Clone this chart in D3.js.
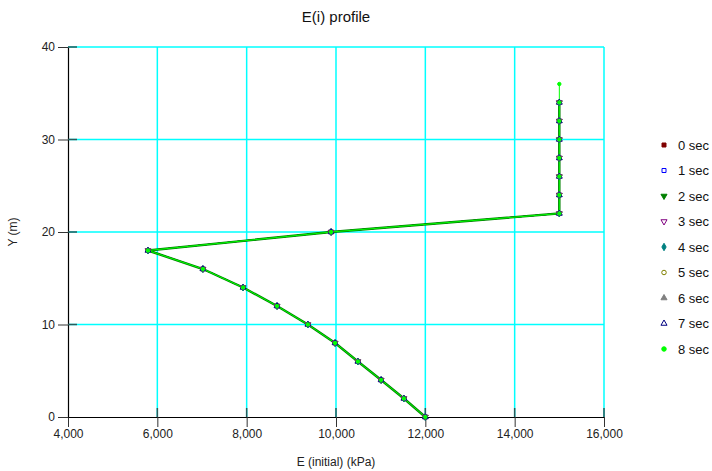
<!DOCTYPE html>
<html><head><meta charset="utf-8">
<script src="https://cdn.jsdelivr.net/npm/d3@7"></script>
<style>body{margin:0;background:#fff;} text{font-family:Arial,"Liberation Sans",sans-serif;}</style>
</head><body>
<svg id="c" width="712" height="471"></svg>
<script>
const title = "E(i) profile";
const xTitle = "E (initial) (kPa)";
const yTitle = "Y (m)";
const xTicks = [4000, 6000, 8000, 10000, 12000, 14000, 16000];
const yTicks = [0, 10, 20, 30, 40];
const depths = [0, 2, 4, 6, 8, 10, 12, 14, 16, 18, 20, 22, 24, 26, 28, 30, 32, 34];
const eValues = [12000, 11520, 11010, 10490, 9980, 9370, 8680, 7920, 7020, 5790, 9890, 15000, 15000, 15000, 15000, 15000, 15000, 15000];
const lastDepths = [36];
const lastValues = [15000];
const seriesNames = ["0 sec", "1 sec", "2 sec", "3 sec", "4 sec", "5 sec", "6 sec", "7 sec", "8 sec"];
const seriesColors = ["#800000", "#0000ff", "#008000", "#800080", "#008080", "#808000", "#808080", "#000080", "#00ff00"];
const seriesShapes = ["square", "square", "triDown", "triDown", "diamond", "circle", "triUp", "triUp", "circle"];
const seriesFilled = [true, false, true, false, true, false, true, false, true];

const svg = d3.select("#c");
const L = 68, R = 604, T = 47, B = 417;
const x = d3.scaleLinear().domain([4000, 16000]).range([L, R]);
const y = d3.scaleLinear().domain([0, 40]).range([B, T]);

// grid
svg.append("g").selectAll("line").data(xTicks.slice(1)).join("line")
  .attr("x1", d => x(d)).attr("x2", d => x(d)).attr("y1", T).attr("y2", B)
  .attr("stroke", "#00ffff").attr("stroke-width", 1.5);
svg.append("g").selectAll("line").data(yTicks.slice(1)).join("line")
  .attr("x1", L).attr("x2", R).attr("y1", d => y(d)).attr("y2", d => y(d))
  .attr("stroke", "#00ffff").attr("stroke-width", 1.5);

// axes
const fmt = d3.format(",");
const xAxis = svg.append("g").attr("transform", `translate(0,${B})`)
  .call(d3.axisBottom(x).tickValues(xTicks).tickFormat(fmt).tickSizeInner(10).tickSizeOuter(0).tickPadding(2));
const yAxis = svg.append("g").attr("transform", `translate(${L},0)`)
  .call(d3.axisLeft(y).tickValues(yTicks).tickSizeInner(10).tickSizeOuter(0).tickPadding(3));
[xAxis, yAxis].forEach(a => {
  a.select(".domain").attr("stroke", "#000").attr("stroke-width", 1.2);
  a.selectAll(".tick line").attr("stroke", "#333");
  a.selectAll("text").attr("font-size", 12).attr("fill", "#222");
});
// inner tick stubs
svg.append("g").selectAll("line").data(xTicks.slice(1)).join("line")
  .attr("x1", d => x(d)).attr("x2", d => x(d)).attr("y1", B).attr("y2", B - 9)
  .attr("stroke", "#2a5a5a").attr("stroke-width", 1.5);
svg.append("g").selectAll("line").data(yTicks.slice(1)).join("line")
  .attr("x1", L).attr("x2", L + 9).attr("y1", d => y(d)).attr("y2", d => y(d))
  .attr("stroke", "#2a5a5a").attr("stroke-width", 1.5);

// series data
const baseData = depths.map((d, i) => ({y: d, e: eValues[i]}));
const seriesData = seriesNames.map((n, si) => si === seriesNames.length - 1
  ? baseData.concat(lastDepths.map((d, i) => ({y: d, e: lastValues[i]})))
  : baseData);

const line = d3.line().x(d => x(d.e)).y(d => y(d.y));
const sym = {square: d3.symbolSquare, triDown: d3.symbolTriangle, triUp: d3.symbolTriangle, diamond: d3.symbolDiamond, circle: d3.symbolCircle};

const lineOrder = [0, 1, 3, 4, 5, 6, 7, 2, 8];
lineOrder.forEach(si => {
  svg.append("path").datum(seriesData[si]).attr("d", line)
    .attr("fill", "none").attr("stroke", seriesColors[si])
    .attr("stroke-width", si === 2 ? 2.4 : 1);
});
function drawMarker(g, si, cx, cy, size) {
  const shape = seriesShapes[si];
  g.append("path")
    .attr("d", d3.symbol().type(sym[shape]).size(size)())
    .attr("transform", `translate(${cx},${cy})` + (shape === "triDown" ? " rotate(180)" : ""))
    .attr("fill", seriesFilled[si] ? seriesColors[si] : "#fff")
    .attr("stroke", seriesColors[si]).attr("stroke-width", 1);
}
const mk = svg.append("g");
seriesNames.forEach((n, si) => {
  seriesData[si].forEach(d => drawMarker(mk, si, x(d.e), y(d.y), si === 8 ? 9 : 14));
});

// legend
const lg = svg.append("g");
seriesNames.forEach((n, si) => {
  const ly = 145 + si * 25.5;
  drawMarker(lg, si, 664, ly, 16);
  lg.append("text").attr("x", 678).attr("y", ly + 4.5).attr("font-size", 13).attr("fill", "#111").text(n);
});

// titles
svg.append("text").attr("x", 336).attr("y", 22).attr("text-anchor", "middle").attr("font-size", 15).attr("fill", "#111").text(title);
svg.append("text").attr("x", 336).attr("y", 466).attr("text-anchor", "middle").attr("font-size", 12).attr("fill", "#222").text(xTitle);
svg.append("text").attr("transform", `translate(17,232) rotate(-90)`).attr("text-anchor", "middle").attr("font-size", 12).attr("fill", "#222").text(yTitle);
</script>
</body></html>
